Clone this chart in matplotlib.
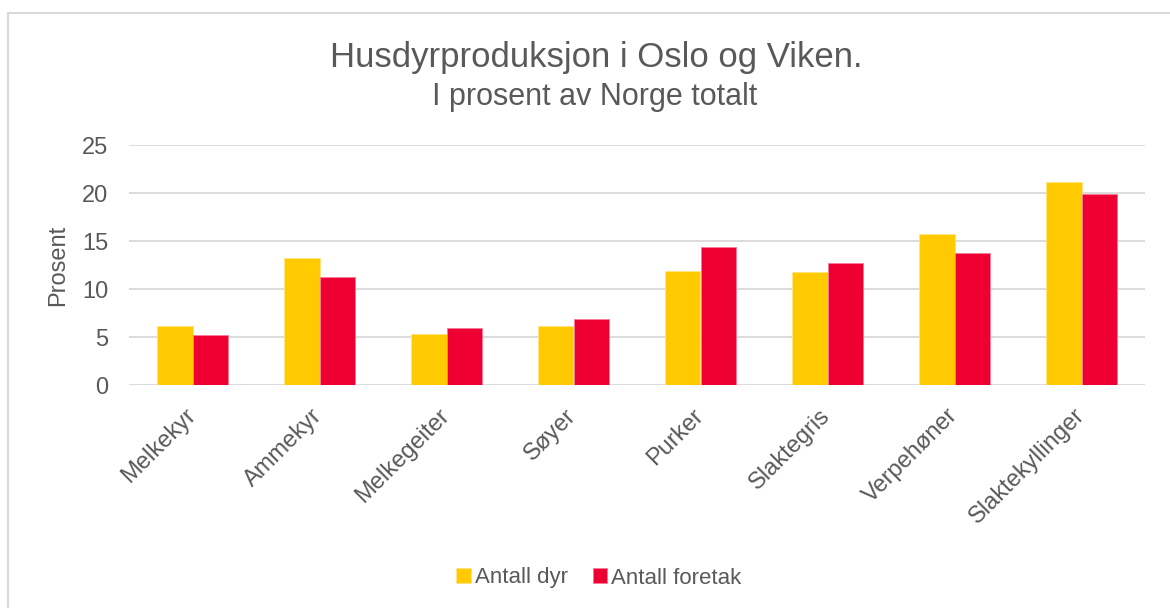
import matplotlib.pyplot as plt
import numpy as np
from matplotlib.patches import Rectangle
from matplotlib.transforms import ScaledTranslation

categories = ["Melkekyr", "Ammekyr", "Melkegeiter", "Søyer", "Purker",
              "Slaktegris", "Verpehøner", "Slaktekyllinger"]
antall_dyr = [6.1, 13.2, 5.3, 6.1, 11.9, 11.8, 15.7, 21.1]
antall_foretak = [5.2, 11.3, 5.9, 6.9, 14.4, 12.7, 13.7, 19.9]
yticks = [0, 5, 10, 15, 20, 25]

txt = "#595959"
yellow = "#FFCB00"
red = "#EE0033"

plt.rcParams['font.family'] = ['Liberation Sans', 'DejaVu Sans']

fig = plt.figure(figsize=(11.7, 6.08), dpi=100)
W, H = 1170, 608

# chart border (runs off right and bottom edge like the screenshot)
fig.patches.append(Rectangle((8 / W, -0.05), 1.1, 1 - 13 / H + 0.05,
                             transform=fig.transFigure, fill=False,
                             edgecolor="#D9D9D9", linewidth=1.5))

ax = fig.add_axes([129 / W, 1 - 385 / H, (1145 - 129) / W, (385 - 145) / H])
x = np.arange(len(categories))
bw = 0.277
ax.bar(x - bw / 2, antall_dyr, bw, color=yellow, label="Antall dyr",
       edgecolor="#FFE680", linewidth=0.6, zorder=3)
ax.bar(x + bw / 2, antall_foretak, bw, color=red, label="Antall foretak",
       edgecolor="#F77A99", linewidth=0.6, zorder=3)

ax.set_xlim(-0.5, len(categories) - 0.5)
ax.set_ylim(0, 25)
ax.set_yticks(yticks)
ax.yaxis.grid(True, color="#D9D9D9", linewidth=1.3, zorder=0)
for s in ax.spines.values():
    s.set_visible(False)
ax.tick_params(axis="y", length=0, labelsize=17, colors=txt, pad=15)
ax.tick_params(axis="x", length=0, pad=14)
ax.set_xticks(x)
ax.set_xticklabels(categories, rotation=45, ha="right", rotation_mode="anchor",
                   color=txt, fontsize=17)
# nudge the rotated labels a little to the left
shift = ScaledTranslation(-6 / 72, 0, fig.dpi_scale_trans)
for lbl in ax.get_xticklabels():
    lbl.set_transform(lbl.get_transform() + shift)
ax.set_ylabel("Prosent", fontsize=17, color=txt, va="center")
ax.yaxis.set_label_coords((58 - 129) / 1016, 0.5)

narrow = ['Liberation Sans Narrow', 'Liberation Sans', 'DejaVu Sans']
fig.text(596 / W, 1 - 58 / H, "Husdyrproduksjon i Oslo og Viken.", ha="center",
         va="center", fontsize=25, color=txt, family=narrow)
fig.text(595 / W, 1 - 97 / H, "I prosent av Norge totalt", ha="center",
         va="center", fontsize=22, color=txt, family=narrow)

fig.legend(loc="center", bbox_to_anchor=(599 / W, 1 - 578 / H), ncol=2,
           frameon=False, fontsize=16, labelcolor=txt, handlelength=0.65,
           handleheight=0.65, handletextpad=0.2, columnspacing=1.1)

fig.savefig("out.png", dpi=100)
